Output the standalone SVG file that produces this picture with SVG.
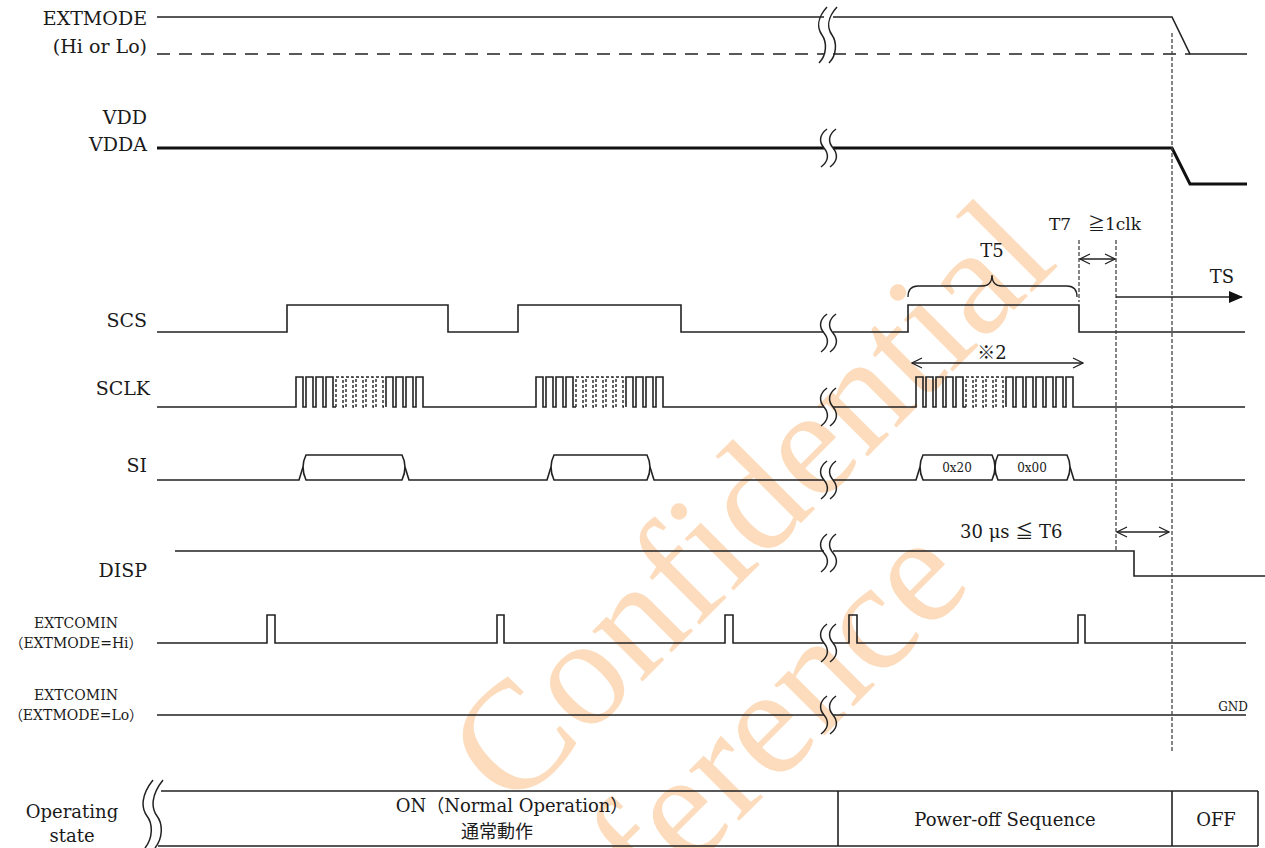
<svg xmlns="http://www.w3.org/2000/svg" xmlns:xlink="http://www.w3.org/1999/xlink" width="1265" height="848" viewBox="0 0 1265 848">
<style>
.sig{fill:none;stroke:#222;stroke-width:1.6;stroke-linejoin:miter}
.dsig{fill:none;stroke:#222;stroke-width:1.4;stroke-dasharray:3 2}
.brk{fill:none;stroke:#222;stroke-width:1.5}
.lbl{font-family:"DejaVu Serif","Noto Sans CJK JP",serif;font-size:19px;fill:#1a1a1a}
.sm{font-family:"DejaVu Serif","Noto Sans CJK JP",serif;font-size:14px;fill:#1a1a1a}
.tb{font-family:"DejaVu Serif","Noto Sans CJK JP",serif;font-size:18px;fill:#1a1a1a}
.dim{fill:none;stroke:#222;stroke-width:1.3}
.guide{fill:none;stroke:#444;stroke-width:1.3;stroke-dasharray:4 2}
.wm{font-family:"Liberation Serif",serif;font-size:155px;fill:#fcdcbc}
</style>
<defs>
<path id="brk" class="brk" d="M3,-19 C-5,-13 -5,-6 0,0 C5,6 5,13 -3,19 M12,-19 C4,-13 4,-6 9,0 C14,6 14,13 6,19"/>
<marker id="open" viewBox="0 0 12 12" refX="11" refY="6" markerWidth="12" markerHeight="12" markerUnits="userSpaceOnUse" orient="auto-start-reverse">
<path d="M1,1 L11,6 L1,11" fill="none" stroke="#222" stroke-width="1.3"/>
</marker>
<marker id="fill" viewBox="0 0 14 12" refX="13" refY="6" markerWidth="14" markerHeight="12" markerUnits="userSpaceOnUse" orient="auto">
<path d="M0,0 L14,6 L0,12 Z" fill="#111"/>
</marker>
</defs>
<rect width="1265" height="848" fill="#fff"/>
<g id="watermark">
<text class="wm" transform="translate(512,812) rotate(-45)">Confidential</text>
<text class="wm" transform="translate(530,1030) rotate(-45)">Reference</text>
</g>

<g id="extmode">
<text class="lbl" x="147" y="25" text-anchor="end">EXTMODE</text>
<text class="lbl" x="147" y="53" text-anchor="end">(Hi or Lo)</text>
<path class="sig" d="M157,17 H824 M833,17 H1172 L1190,54 H1247"/>
<path fill="none" stroke="#222" stroke-width="1.6" stroke-dasharray="13 9" d="M157,54 H824 M833,54 H1190"/>
<path class="brk" d="M827,7 C817,18 817,28 822,35 C827,42 827,55 819,63 M837,7 C827,18 827,28 832,35 C837,42 837,55 829,63"/>
</g>

<g id="vdd">
<text class="lbl" x="147" y="124" text-anchor="end">VDD</text>
<text class="lbl" x="147" y="151" text-anchor="end">VDDA</text>
<path fill="none" stroke="#111" stroke-width="3" d="M157,148 H824 M833,148 H1172 L1190,184 H1247"/>
<use xlink:href="#brk" x="824" y="148"/>
</g>

<g id="scs">
<text class="lbl" x="147" y="327" text-anchor="end">SCS</text>
<path class="sig" d="M157,332 H287 V305 H448 V332 H518 V305 H681 V332 H824 M833,332 H908 V305 H1079 V332 H1245"/>
<use xlink:href="#brk" x="824" y="333"/>
</g>

<g id="sclk">
<text class="lbl" x="150" y="395" text-anchor="end">SCLK</text>
<path class="sig" d="M157,407 H296 V377 H303 V407 H306 V377 H313 V407 H316 V377 H323 V407 H326 V377 H333 V407 H336"/>
<path class="dsig" d="M336,407 V377 H343 V407 H346 V377 H353 V407 H356 V377 H363 V407 H366 V377 H373 V407 H376 V377 H383 V407 H386"/>
<path class="sig" d="M386,407 V377 H393 V407 H396 V377 H403 V407 H406 V377 H413 V407 H416 V377 H423 V407 H536 V377 H543 V407 H546 V377 H553 V407 H556 V377 H563 V407 H566 V377 H573 V407 H576"/>
<path class="dsig" d="M576,407 V377 H583 V407 H586 V377 H593 V407 H596 V377 H603 V407 H606 V377 H613 V407 H616 V377 H623 V407 H626"/>
<path class="sig" d="M626,407 V377 H633 V407 H636 V377 H643 V407 H646 V377 H653 V407 H656 V377 H663 V407 H824 M833,407 H916 V377 H923 V407 H926 V377 H933 V407 H936 V377 H943 V407 H946 V377 H953 V407 H956 V377 H963 V407 H966"/>
<path class="dsig" d="M966,407 V377 H973 V407 H976 V377 H983 V407 H986 V377 H993 V407 H996 V377 H1003 V407 H1006"/>
<path class="sig" d="M1006,407 V377 H1013 V407 H1016 V377 H1023 V407 H1026 V377 H1033 V407 H1036 V377 H1043 V407 H1046 V377 H1053 V407 H1056 V377 H1063 V407 H1066 V377 H1073 V407 H1245"/>
<use xlink:href="#brk" x="824" y="407"/>
</g>

<g id="si">
<text class="lbl" x="147" y="472" text-anchor="end">SI</text>
<path class="sig" d="M157,480 H299 L303,467 M405,467 L409,480 H547 L551,467 M650,467 L654,480 H824 M833,480 H916 L920,467 M1070,467 L1074,480 H1245"/>
<path class="sig" d="M306,455 H402 Q408,467 402,480 H306 Q300,467 306,455 Z"/>
<path class="sig" d="M554,455 H647 Q653,467 647,480 H554 Q548,467 554,455 Z"/>
<path class="sig" d="M923,455 H992 Q998,467 992,480 H923 Q917,467 923,455 Z"/>
<path class="sig" d="M998,455 H1067 Q1073,467 1067,480 H998 Q992,467 998,455 Z"/>
<text class="sm" x="957" y="472" text-anchor="middle" style="font-size:12px">0x20</text>
<text class="sm" x="1032" y="472" text-anchor="middle" style="font-size:12px">0x00</text>
<use xlink:href="#brk" x="824" y="480"/>
</g>

<g id="disp">
<text class="lbl" x="147" y="577" text-anchor="end">DISP</text>
<path class="sig" d="M175,551 H824 M833,551 H1134 V576 H1265"/>
<use xlink:href="#brk" x="824" y="553"/>
</g>

<g id="extcomin-hi">
<text class="sm" x="76" y="628" text-anchor="middle">EXTCOMIN</text>
<text class="sm" x="76" y="648" text-anchor="middle">（EXTMODE=Hi）</text>
<path class="sig" d="M157,643 H267 V615 H275 V643 H497 V615 H504 V643 H725 V615 H733 V643 H824 M833,643 H849 V615 H857 V643 H1078 V615 H1085 V643 H1246"/>
<use xlink:href="#brk" x="824" y="643"/>
</g>

<g id="extcomin-lo">
<text class="sm" x="76" y="700" text-anchor="middle">EXTCOMIN</text>
<text class="sm" x="76" y="720" text-anchor="middle">（EXTMODE=Lo）</text>
<path class="sig" d="M157,715 H824 M833,715 H1246"/>
<use xlink:href="#brk" x="824" y="715"/>
<text class="sm" x="1233" y="711" text-anchor="middle" style="font-size:12px">GND</text>
</g>

<g id="timing">
<path class="guide" d="M1172,33 V752"/>
<path class="guide" d="M1079,240 V302"/>
<path class="guide" d="M1116,240 V552"/>
<path class="dim" d="M908,297 Q908,286 918,286 H982 Q992,286 992,275 Q992,286 1002,286 H1067 Q1077,286 1077,297"/>
<text class="lbl" x="992" y="257" text-anchor="middle" style="font-size:18px">T5</text>
<text class="lbl" x="1049" y="230" style="font-size:17px">T7</text>
<text class="lbl" x="1088" y="230" style="font-size:17px">≧1clk</text>
<path class="dim" d="M1080,259 H1115" marker-start="url(#open)" marker-end="url(#open)"/>
<path class="dim" d="M1116,297 H1242" marker-end="url(#fill)"/>
<text class="lbl" x="1222" y="283" text-anchor="middle" style="font-size:18px">TS</text>
<path class="dim" d="M912,363 H1083" marker-start="url(#open)" marker-end="url(#open)"/>
<text class="lbl" x="992" y="359" text-anchor="middle" style="font-size:18px">※2</text>
<text class="lbl" x="960" y="538" style="font-size:18px">30 μs ≦ T6</text>
<path class="dim" d="M1117,532 H1169" marker-start="url(#open)" marker-end="url(#open)"/>
</g>

<g id="state-table">
<text class="tb" x="72" y="818" text-anchor="middle">Operating</text>
<text class="tb" x="72" y="842" text-anchor="middle">state</text>
<path class="brk" d="M153,780 C141,795 141,808 147,816 C153,824 153,838 145,848 M163,780 C151,795 151,808 157,816 C163,824 163,838 155,848"/>
<path class="sig" d="M161,791 H1258 M158,846 H1258 M838,791 V846 M1172,791 V846 M1258,791 V846"/>
<text class="tb" x="512" y="812" text-anchor="middle">ON（Normal Operation）</text>
<text class="tb" x="497" y="838" text-anchor="middle">通常動作</text>
<text class="tb" x="1005" y="826" text-anchor="middle">Power-off Sequence</text>
<text class="tb" x="1216" y="826" text-anchor="middle">OFF</text>
</g>
</svg>
